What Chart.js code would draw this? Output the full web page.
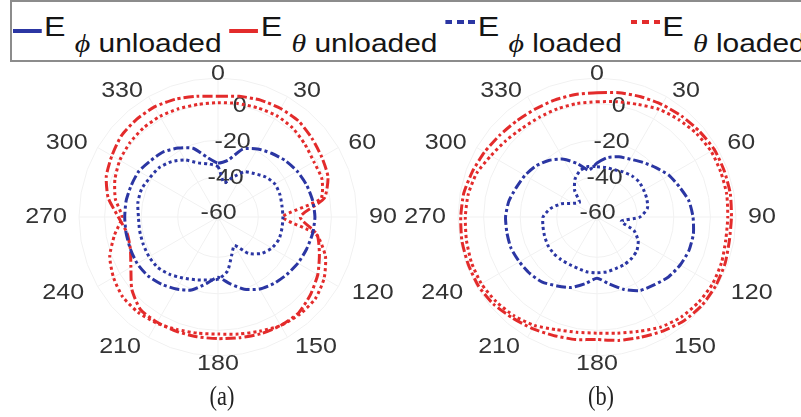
<!DOCTYPE html>
<html>
<head>
<meta charset="utf-8">
<script src="https://cdn.jsdelivr.net/npm/chart.js@4.4.1/dist/chart.umd.min.js"></script>
<style>
html, body { margin: 0; padding: 0; background: #fff; width: 801px; height: 417px; overflow: hidden; position: relative; }
canvas { position: absolute; }
#legend { position: absolute; left: 10px; top: 0; width: 795px; height: 62px; border: 2px solid #8c8c8c; border-right: none; box-sizing: border-box; overflow: hidden; }
#legendRow { position: absolute; left: 1px; top: 5px; transform: scaleX(1.15); transform-origin: 0 0; white-space: nowrap; line-height: 40px; font-family: 'Liberation Sans', Arial, sans-serif; color: #151515; }
.item { display: inline-block; margin-right: 7px; }
.sample { display: inline-block; height: 4px; margin-right: 2px; position: relative; }
.E { font-size: 28px; }
.sub { font-size: 26px; position: relative; top: 16px; margin-left: 8px; }
.sym { font-family: 'Liberation Serif', 'DejaVu Serif', serif; font-style: italic; }
.cap { position: absolute; top: 380px; width: 100px; text-align: center; font-family: 'Liberation Serif', serif; font-size: 28px; color: #222; transform: scaleX(0.8); }
</style>
</head>
<body>
<div id="legend"><div id="legendRow"></div></div>
<canvas id="chartA" width="400" height="330" style="left:18px;top:62px"></canvas>
<canvas id="chartB" width="400" height="330" style="left:397px;top:62px"></canvas>
<div class="cap" style="left:172px">(a)</div>
<div class="cap" style="left:551px">(b)</div>
<script>
// angles every 10 deg, labels every 30 deg
const angles = [0,10,20,30,40,50,60,70,80,90,100,110,120,130,140,150,160,170,
                180,190,200,210,220,230,240,250,260,270,280,290,300,310,320,330,340,350];
const angleTicks = [0,30,60,90,120,150,180,210,240,270,300,330];
const radialTicks = [-60,-40,-20,0];
const rMin = -62, rMax = 14;

const seriesNames = ['ϕ unloaded', 'θ unloaded', 'ϕ loaded', 'θ loaded'];

// (a) values in dB
const ePhiUnloadedA = [-32.5,-30.5,-22.5,-19,-16.5,-14,-12,-10.5,-9.5,-9,-9.5,-10.5,-11.5,-13,-14.5,-16.5,-20,-25,
                       -29,-25,-19.5,-16.5,-14,-12,-11,-11,-11,-11,-11,-11.5,-12,-14,-15.5,-18.5,-22,-29];
const eThetaUnloadedA = [4,5,6,6.5,6.5,5,3.5,2,-3,-17,-7,-3,1,4,6.5,6.5,6,5,
                         4.5,4.5,4.5,4.5,4,-0.5,-7,-11,-11.5,-7.5,-1,3,5,7,7.5,7.5,6.5,5];
const ePhiLoadedA = [-34.5,-43,-39,-33.5,-31,-28,-26,-26,-26.5,-26.5,-26.5,-26.5,-28,-31,-36,-44,-40,-32,
                     -28,-27,-25.5,-23.5,-21,-19,-18.5,-18.5,-18.5,-18.5,-17.5,-17.5,-19,-20,-22.5,-26,-30.5,-32.5];
const eThetaLoadedA = [0.5,1,1.5,2,1.5,0,-1.5,-1.5,-5,-26.5,-7.5,0.5,5,7.5,7.5,6.5,4.5,3,
                       2,2.5,3.5,5,6,6,4,1,-4.5,-9.5,-5,-2,0,1,1.5,1.5,1,0.5];

// (b) values in dB
const ePhiUnloadedB = [-32.5,-29,-27,-25.5,-23,-20,-16.5,-14,-11,-9.5,-8.5,-8.5,-9.5,-11,-13.5,-15.5,-20,-25,
                       -28.5,-25,-21,-18.5,-15.5,-14,-13,-12,-12,-12,-13,-15,-16.5,-18.5,-21.5,-25.5,-31,-36];
const eThetaUnloadedB = [6,7,8,9,10,11,12,12,12,11.5,11.5,12.5,13,13,12,10,8,6.5,
                         5,6,7,8.5,10,12,13,13,13,12.5,12,10.5,9,7.5,6.5,6,6,6];
const ePhiLoadedB = [-34.5,-34.5,-34.5,-33.5,-32.5,-32,-32.5,-33,-34,-38.5,-48.5,-40.5,-36,-33.5,-32.5,-32,-32,-31.5,
                     -31.5,-31.5,-32,-32,-31.5,-31,-31,-31.5,-32,-32.5,-36,-41,-47,-49.5,-43,-38,-35,-34];
const eThetaLoadedB = [1,2,3.5,6,7.5,9,10,10,10,9.5,9.5,10.5,11,10.5,9.5,7.5,4.5,2.5,
                       1.5,2,3.5,6.5,8.5,10,11,11,10.5,10,9.5,8,5,3,1.5,1,1,1];

const BLUE = '#2b36a3', RED = '#e32b2b';
const seriesStyles = [
  { color: BLUE, dash: [10, 3, 3, 3], kind: 'dash' },
  { color: RED,  dash: [10, 3, 3, 3], kind: 'dash' },
  { color: BLUE, dash: [3, 3], kind: 'dot' },
  { color: RED,  dash: [3, 3], kind: 'dot' }
];

const SX = 1.14; // the source figure is stretched sideways
const labelFont = '22px "Liberation Sans", Arial, sans-serif';

function stretchedText(ctx, t, x, y) {
  ctx.save();
  ctx.translate(x, y);
  ctx.scale(SX, 1);
  ctx.fillText(t, 0, 0);
  ctx.restore();
}

const polarText = {
  id: 'polarText',
  beforeDatasetsDraw(chart) {
    const s = chart.scales.r, ctx = chart.ctx;
    ctx.save();
    ctx.font = labelFont;
    ctx.fillStyle = '#333';
    ctx.textAlign = 'center';
    ctx.textBaseline = 'middle';
    angleTicks.forEach(a => {
      const th = a * Math.PI / 180, sn = Math.sin(th), cs = Math.cos(th);
      const txt = String(a);
      const w = ctx.measureText(txt).width * SX;
      const d = s.drawingArea + 4 + 6 * Math.abs(sn) + (cs < -0.01 ? 4 : 0);
      const p = s.getPointPosition(a / 10, d);
      const x = p.x + (Math.abs(sn) > 0.01 ? Math.sign(sn) * (w / 2 + 2) : 0);
      stretchedText(ctx, txt, x, p.y);
    });
    radialTicks.forEach(v => {
      const p = s.getPointPosition(1.1, s.getDistanceFromCenterForValue(v));
      stretchedText(ctx, String(v), p.x, p.y);
    });
    ctx.restore();
  }
};

function makePolar(id, series) {
  return new Chart(document.getElementById(id), {
    type: 'radar',
    data: {
      labels: angles,
      datasets: series.map((data, i) => ({
        label: 'E' + seriesNames[i],
        data: data,
        borderColor: seriesStyles[i].color,
        borderDash: seriesStyles[i].dash,
        borderWidth: 3,
        fill: false,
        tension: 0.2,
        pointRadius: 0
      }))
    },
    options: {
      responsive: false,
      animation: false,
      layout: { padding: { top: 16, bottom: 36, left: 0, right: 0 } },
      plugins: { legend: { display: false }, tooltip: { enabled: false } },
      scales: {
        r: {
          min: rMin,
          max: rMax,
          afterBuildTicks: scale => {
            scale.ticks = radialTicks.concat([rMax]).map(v => ({ value: v }));
          },
          ticks: { display: false },
          grid: { color: '#f1f1f1', lineWidth: 1 },
          angleLines: { color: c => (c.index % 3 === 0 ? '#f1f1f1' : 'rgba(0,0,0,0)') },
          pointLabels: { display: false }
        }
      }
    },
    plugins: [polarText]
  });
}

const chartA = makePolar('chartA', [ePhiUnloadedA, eThetaUnloadedA, ePhiLoadedA, eThetaLoadedA]);
const chartB = makePolar('chartB', [ePhiUnloadedB, eThetaUnloadedB, ePhiLoadedB, eThetaLoadedB]);

// legend built from the datasets of chart (a)
const legendRow = document.getElementById('legendRow');
chartA.data.datasets.forEach((ds, i) => {
  const st = seriesStyles[i];
  const item = document.createElement('span');
  item.className = 'item';
  const sample = document.createElement('span');
  sample.className = 'sample';
  if (st.kind === 'dash') {
    sample.style.width = '25px';
    sample.style.top = '-3px';
    sample.style.background = st.color;
  } else {
    sample.style.width = '26px';
    sample.style.top = '-12px';
    sample.style.background = 'repeating-linear-gradient(to right,' + st.color + ' 0 6px, transparent 6px 10px)';
  }
  item.appendChild(sample);
  const e = document.createElement('span');
  e.className = 'E';
  e.textContent = ds.label.charAt(0);
  item.appendChild(e);
  const sub = document.createElement('span');
  sub.className = 'sub';
  const sym = document.createElement('span');
  sym.className = 'sym';
  sym.textContent = ds.label.charAt(1);
  sub.appendChild(sym);
  sub.appendChild(document.createTextNode(ds.label.slice(2)));
  item.appendChild(sub);
  legendRow.appendChild(item);
});
</script>
</body>
</html>
